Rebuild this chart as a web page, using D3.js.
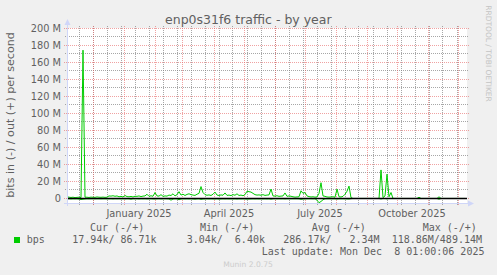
<!DOCTYPE html>
<html>
<head>
<meta charset="utf-8">
<script src="https://cdn.jsdelivr.net/npm/d3@7/dist/d3.min.js"></script>
<style>
body { margin: 0; background: #f0f0f0; }
svg { display: block; }
text { white-space: pre; }
</style>
</head>
<body>
<script>
const WIDTH = 497;
const HEIGHT = 275;
const LEFT = 67;
const RIGHT = 467;
const TOP = 28;
const BOTTOM = 203;

// one value every 2 days, in Mbit/s
var startDate = new Date(Date.UTC(2024, 10, 5));
var endDate = d3.utcDay.offset(startDate, 400);
var stepDays = 2;

var outM = [
  2, 1.5, 1.2, 1.5, 1, 1.3, 1.5, 1,
  174, 1.5,
  1.5, 1.2, 1.6, 1.4, 1.3, 1.8, 1.5, 1.4, 1.6, 1.3, 1.5,
  3, 2.8, 3.2, 2.6, 3,
  2, 2.5, 1.8, 3.5, 2.2, 2, 2.4, 1.8, 2.6,
  2.5, 3, 2.2, 2.8, 3, 5,
  2.5, 3.2, 2.6, 7, 3,
  2.8, 4.5, 2.5, 3, 2.8,
  4, 3.5, 5.5, 3, 4.5,
  8, 4, 5, 3.5, 4.8,
  5.5, 4.5, 4, 3.6, 5, 6,
  14,
  7, 4.5, 3.8, 4.2, 3.5, 5,
  7.5, 4, 3.5, 4.2, 3.8,
  6.5, 3.6, 4, 3.4, 4.5, 3.8,
  5.5, 3.5, 4, 3.2, 4.5, 8.5,
  8, 7.5, 6, 4.5, 4,
  4.2, 3.8, 4.5, 3.6, 4, 4.2,
  11,
  3, 2.8, 3.2, 2.5, 2.8,
  3, 6.5, 2.5, 3, 2.6,
  2, 1.6, 1.8, 2, 9,
  6, 7, 3, 2.2, 1.8,
  2, 1.6, 1.8, 6,
  18.5,
  3, 2.5, 1.8, 1.6, 1.8,
  2, 1.5, 11,
  2, 1.8, 2.5, 5, 8.5,
  14.5, 1,
  0, 0, 0, 0, 0, 0, 0, 0, 0, 0, 0, 0, 0, 0,
  33.5, 1, 3, 28.5, 2, 7,
  0, 0, 0, 0, 0, 0, 0, 0, 0, 0, 0, 0, 0,
  1.5,
  0, 0, 0, 0, 0, 0, 0, 0, 0,
  2,
  0, 0, 0, 0, 0, 0, 0, 0, 0, 0, 0, 0, 0
];

var inM = [
  -0.4, -0.3, -0.5, -0.3, -0.4, -0.3, -0.6, -1.2,
  -0.8,
  -0.5, -0.3, -0.4, -0.3, -0.3, -0.4, -0.3, -0.3, -0.4, -0.3, -0.3, -0.4,
  -0.4, -0.3, -0.5, -0.3, -0.4, -0.3, -0.4, -0.3, -0.5, -0.3, -0.4, -0.8, -0.3, -0.4, -0.3, -0.5, -0.3, -0.4, -0.3, -0.5,
  -0.4, -0.3, -0.5, -0.6, -0.4, -0.3, -0.5, -0.4, -0.3, -0.4, -0.5, -2, -0.6, -0.4, -0.5, -1.5, -0.6, -0.4, -0.5, -0.4,
  -0.5, -0.4, -0.6, -0.8, -0.5, -0.4, -1, -0.6, -0.5, -0.4, -0.5, -0.4, -0.5, -0.6, -0.4, -0.7, -0.5, -0.4, -0.5, -0.4,
  -0.5, -0.4, -0.5, -0.4, -0.6, -0.4, -0.5, -0.4, -0.5, -0.7, -0.6, -0.5, -0.4, -0.5, -0.4, -0.5, -0.4, -0.5, -0.4, -0.5,
  -0.4, -0.8, -0.4, -0.3, -0.4, -0.3, -0.4, -0.3, -0.5, -0.3, -0.4, -0.3, -0.3, -0.3, -0.3, -0.4, -1, -0.6, -0.5, -0.3,
  -0.3, -0.3, -0.4, -0.3, -2, -5, -3.5, -1.5, -0.4, -0.3, -0.3, -0.3, -0.3, -0.3, -0.6, -0.3, -0.3, -0.3, -0.4, -0.5, -0.6, -0.2,
  0, 0, 0, 0, 0, 0, 0, 0, 0, 0, 0, 0, 0, 0,
  -0.5, 0, 0, -0.4,
  0, 0, 0, 0, 0, 0, 0, 0, 0, 0, 0, 0, 0, 0, 0, 0, 0, 0, 0, 0, 0, 0, 0, 0, 0,
  -0.8,
  0, 0, 0, 0, 0, 0, 0, 0, 0, 0, 0, 0, 0
];

var yTicks = [0, 20, 40, 60, 80, 100, 120, 140, 160, 180, 200];
var yTickLabels = ["0", "20 M", "40 M", "60 M", "80 M", "100 M", "120 M", "140 M", "160 M", "180 M", "200 M"];
var labelMonths = [new Date(Date.UTC(2025, 0, 1)), new Date(Date.UTC(2025, 3, 1)),
                   new Date(Date.UTC(2025, 6, 1)), new Date(Date.UTC(2025, 9, 1))];
var monthLabels = ["January 2025", "April 2025", "July 2025", "October 2025"];
var weekAnchor = new Date(Date.UTC(2024, 10, 17));

var legendName = "bps";
var legendHeads = ["Cur (-/+)", "Min (-/+)", "Avg (-/+)", "Max (-/+)"];
var legendValues = ["17.94k/ 86.71k", "3.04k/  6.40k", "286.17k/   2.34M", "118.86M/489.14M"];
var lastUpdate = "Last update: Mon Dec  8 01:00:06 2025";

var headX = [90, 200, 311.7, 422.7];
var valueX = [72.3, 186.7, 283.3, 391.7];

var xScale = d3.scaleUtc()
  .domain([startDate, endDate])
  .range([LEFT, RIGHT]);

var yScale = d3.scaleLinear()
  .domain([-5.3, 200])
  .range([BOTTOM, TOP]);

var px = function(v){ return Math.floor(v) + 0.5; };
var dayX = function(d, i){ return xScale(d3.utcDay.offset(startDate, i * stepDays)); };
var keepSpaces = function(s){ return s.replace(/ /g, '\u00a0'); };

var svg = d3.select('body')
  .append('svg')
  .attr('width', WIDTH)
  .attr('height', HEIGHT);

svg.append('rect')
  .attr('x', LEFT).attr('y', TOP)
  .attr('width', RIGHT - LEFT).attr('height', BOTTOM - TOP)
  .attr('fill', '#ffffff');

var grid = svg.append('g').attr('stroke-width', 1).attr('stroke-dasharray', '1,1');

// minor grid
var yMinor = d3.range(10, 201, 20);
grid.selectAll('.hmin').data(yMinor).enter().append('line')
  .attr('x1', LEFT - 2).attr('x2', RIGHT + 2)
  .attr('y1', function(d){ return px(yScale(d)); })
  .attr('y2', function(d){ return px(yScale(d)); })
  .attr('stroke', 'rgba(130,130,130,0.7)');

grid.selectAll('.vmin').data(d3.utcDay.range(weekAnchor, endDate, 14)).enter().append('line')
  .attr('x1', function(d){ return px(xScale(d)); })
  .attr('x2', function(d){ return px(xScale(d)); })
  .attr('y1', TOP - 2).attr('y2', BOTTOM + 3)
  .attr('stroke', 'rgba(130,130,130,0.7)');

// major grid
grid.selectAll('.hmaj').data(yTicks).enter().append('line')
  .attr('x1', LEFT - 3).attr('x2', RIGHT + 2)
  .attr('y1', function(d){ return px(yScale(d)); })
  .attr('y2', function(d){ return px(yScale(d)); })
  .attr('stroke', 'rgba(230,100,100,0.6)');

grid.selectAll('.vmaj').data(d3.utcMonth.range(startDate, endDate)).enter().append('line')
  .attr('x1', function(d){ return px(xScale(d)); })
  .attr('x2', function(d){ return px(xScale(d)); })
  .attr('y1', TOP - 2).attr('y2', BOTTOM + 3)
  .attr('stroke', 'rgba(230,100,100,0.6)');

// data
var line = d3.line().x(dayX).y(function(d){ return yScale(d); });

svg.append('path').attr('d', line(inM))
  .attr('fill', 'none').attr('stroke', '#00cc00').attr('stroke-width', 1);
svg.append('path').attr('d', line(outM))
  .attr('fill', 'none').attr('stroke', '#00cc00').attr('stroke-width', 1);

svg.append('line')
  .attr('x1', LEFT).attr('x2', RIGHT)
  .attr('y1', yScale(0)).attr('y2', yScale(0))
  .attr('stroke', '#000').attr('stroke-width', 1.6);

// axes
svg.append('line')
  .attr('x1', LEFT + 0.5).attr('x2', LEFT + 0.5)
  .attr('y1', BOTTOM + 3).attr('y2', TOP - 4)
  .attr('stroke', '#cfd6f8');
svg.append('path')
  .attr('d', 'M' + (LEFT - 2.5) + ',' + (TOP - 3) + 'L' + (LEFT + 3.5) + ',' + (TOP - 3) + 'L' + (LEFT + 0.5) + ',' + (TOP - 9) + 'Z')
  .attr('fill', '#cfd6f8');
svg.append('line')
  .attr('x1', LEFT - 3).attr('x2', RIGHT + 3)
  .attr('y1', BOTTOM + 0.5).attr('y2', BOTTOM + 0.5)
  .attr('stroke', '#cfd6f8');
svg.append('path')
  .attr('d', 'M' + (RIGHT + 1) + ',' + (BOTTOM - 2.5) + 'L' + (RIGHT + 1) + ',' + (BOTTOM + 3.5) + 'L' + (RIGHT + 7) + ',' + (BOTTOM + 0.5) + 'Z')
  .attr('fill', '#cfd6f8');

// labels
var text = svg.append('g')
  .attr('font-family', '"DejaVu Sans", sans-serif')
  .attr('fill', '#606060');

text.selectAll('.ylab').data(yTicks).enter().append('text')
  .attr('x', 61)
  .attr('y', function(d){ return yScale(d) + 3.6; })
  .attr('text-anchor', 'end')
  .attr('font-size', '9.8px')
  .text(function(d, i){ return yTickLabels[i]; });

text.selectAll('.xlab').data(labelMonths).enter().append('text')
  .attr('x', function(d){ return xScale(d3.utcDay.offset(d, 15)); })
  .attr('y', 216.5)
  .attr('text-anchor', 'middle')
  .attr('font-size', '9.8px')
  .text(function(d, i){ return monthLabels[i]; });

text.append('text')
  .attr('x', 248.3).attr('y', 24.3)
  .attr('text-anchor', 'middle')
  .attr('font-size', '12.5px')
  .text('enp0s31f6 traffic - by year');

text.append('text')
  .attr('transform', 'translate(14,115) rotate(-90)')
  .attr('text-anchor', 'middle')
  .attr('font-size', '11.1px')
  .text('bits in (-) / out (+) per second');

svg.append('text')
  .attr('transform', 'translate(485.5,53.5) rotate(90)')
  .attr('text-anchor', 'middle')
  .attr('font-family', '"DejaVu Sans", sans-serif')
  .attr('font-size', '7.5px')
  .attr('fill', '#c4c4c4')
  .text('RRDTOOL / TOBI OETIKER');

svg.append('text')
  .attr('x', 248).attr('y', 267)
  .attr('text-anchor', 'middle')
  .attr('font-family', '"DejaVu Sans", sans-serif')
  .attr('font-size', '7.6px')
  .attr('fill', '#cccccc')
  .text('Munin 2.0.75');

// legend
var legend = svg.append('g')
  .attr('font-family', '"DejaVu Sans Mono", monospace')
  .attr('font-size', '10px')
  .attr('fill', '#606060');

legend.selectAll('.head').data(legendHeads).enter().append('text')
  .attr('x', function(d, i){ return headX[i]; })
  .attr('y', 231)
  .text(function(d){ return keepSpaces(d); });

legend.append('rect')
  .attr('x', 14).attr('y', 237)
  .attr('width', 6).attr('height', 6)
  .attr('fill', '#00cc00');

legend.append('text')
  .attr('x', 26.7).attr('y', 243.3)
  .text(legendName);

legend.selectAll('.val').data(legendValues).enter().append('text')
  .attr('x', function(d, i){ return valueX[i]; })
  .attr('y', 243.3)
  .text(function(d){ return keepSpaces(d); });

legend.append('text')
  .attr('x', 261.7).attr('y', 254.8)
  .text(keepSpaces(lastUpdate));
</script>
</body>
</html>
